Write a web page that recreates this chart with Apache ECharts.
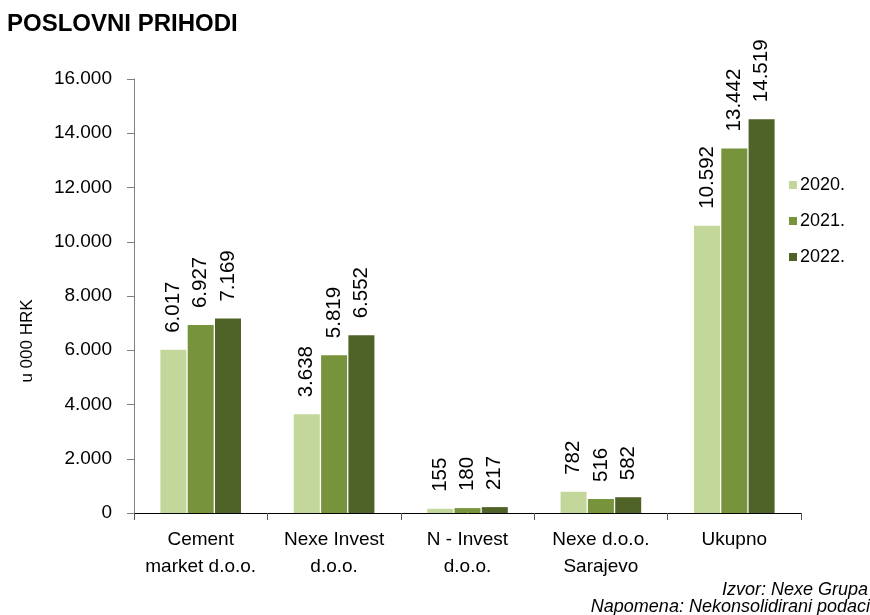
<!DOCTYPE html>
<html>
<head>
<meta charset="utf-8">
<script src="https://cdn.jsdelivr.net/npm/echarts@6/dist/echarts.min.js"></script>
<style>
  html, body { margin: 0; padding: 0; background: #fff; }
  #chart { width: 870px; height: 615px; }
</style>
</head>
<body>
<div id="chart"></div>
<script>
const categories = ['Cement\nmarket d.o.o.', 'Nexe Invest\nd.o.o.', 'N - Invest\nd.o.o.', 'Nexe d.o.o.\nSarajevo', 'Ukupno'];
const years = ['2020.', '2021.', '2022.'];
const v2020 = [6017, 3638, 155, 782, 10592];
const v2021 = [6927, 5819, 180, 516, 13442];
const v2022 = [7169, 6552, 217, 582, 14519];
const yTicks = [0, 2000, 4000, 6000, 8000, 10000, 12000, 14000, 16000];

const colors = ['#c4d79b', '#77933c', '#4f6228'];
const FONT = 'Liberation Sans, Arial, sans-serif';

const fmt = (v) => v.toLocaleString('de-DE');

const chart = echarts.init(document.getElementById('chart'), null, { renderer: 'canvas' });

const makeSeries = (name, data, color) => ({
  name,
  type: 'bar',
  data,
  barWidth: 26,
  barGap: '5%',
  itemStyle: { color },
  label: {
    show: true,
    position: 'top',
    rotate: 90,
    align: 'left',
    verticalAlign: 'middle',
    distance: 17,
    color: '#000',
    fontFamily: FONT,
    fontSize: 20.5,
    formatter: (p) => fmt(p.value),
  },
});

const footStyle = { fontFamily: FONT, fontSize: 18, fontStyle: 'italic', fontWeight: 'normal', color: '#000' };

chart.setOption({
  backgroundColor: '#fff',
  animation: false,
  title: [
    { text: 'POSLOVNI PRIHODI', left: 7, top: 12, padding: 0,
      textStyle: { fontFamily: FONT, fontSize: 24, fontWeight: 'bold', color: '#000' } },
    { text: 'Izvor: Nexe Grupa', right: 2, top: 581, padding: 0, textStyle: footStyle },
    { text: 'Napomena: Nekonsolidirani podaci', right: 0, top: 598, padding: 0, textStyle: footStyle },
  ],
  graphic: [
    { type: 'text', x: 27, y: 341, rotation: Math.PI / 2,
      style: { text: 'u 000 HRK', font: '17px ' + FONT, fill: '#000', align: 'center', verticalAlign: 'middle' } },
  ],
  legend: {
    orient: 'vertical',
    left: 789,
    top: 176,
    padding: 0,
    itemWidth: 8,
    itemHeight: 8,
    itemGap: 18,
    icon: 'rect',
    data: years,
    textStyle: { fontFamily: FONT, fontSize: 18, color: '#000', padding: [0, 0, 0, -2] },
  },
  grid: { left: 134, right: 69, top: 79, bottom: 102, containLabel: false },
  xAxis: {
    type: 'category',
    data: categories,
    axisLine: { lineStyle: { color: '#000', width: 1 } },
    axisTick: { show: true, length: 7, lineStyle: { color: '#555' } },
    axisLabel: { interval: 0, hideOverlap: false, fontFamily: FONT, fontSize: 19, color: '#000', lineHeight: 27, margin: 13 },
  },
  yAxis: {
    type: 'value',
    min: 0,
    max: 16000,
    interval: 2000,
    axisLine: { show: true, lineStyle: { color: '#808080' } },
    axisTick: { show: true, length: 7, lineStyle: { color: '#808080' } },
    splitLine: { show: false },
    axisLabel: {
      fontFamily: FONT, fontSize: 19, color: '#000', margin: 22,
      formatter: (v) => yTicks.includes(v) ? fmt(v) : '',
    },
  },
  series: [
    makeSeries(years[0], v2020, colors[0]),
    makeSeries(years[1], v2021, colors[1]),
    makeSeries(years[2], v2022, colors[2]),
  ],
});
</script>
</body>
</html>
